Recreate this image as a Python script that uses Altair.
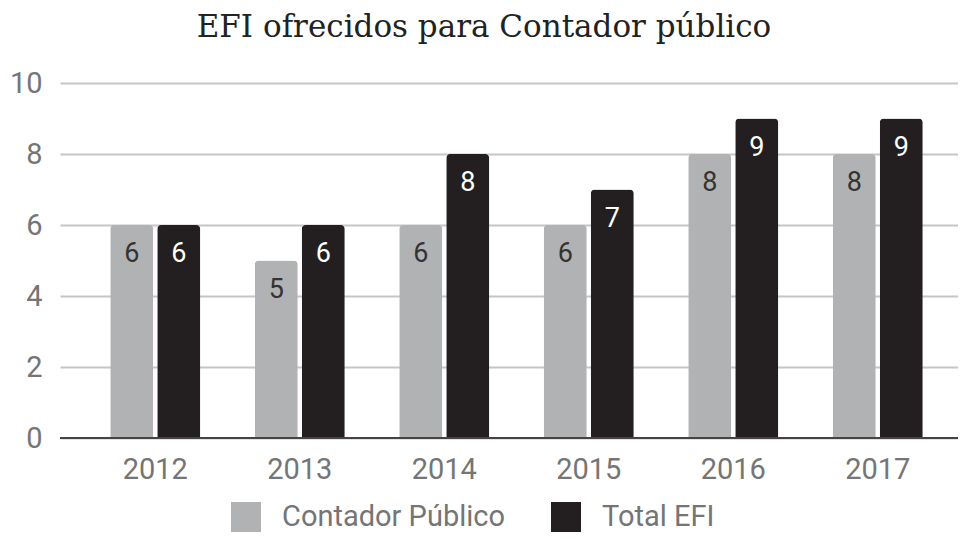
import altair as alt
import pandas as pd

years = ["2012", "2013", "2014", "2015", "2016", "2017"]
contador = [6, 5, 6, 6, 8, 8]
total = [6, 6, 8, 7, 9, 9]
series = ["Contador Público", "Total EFI"]
colors = ["#b1b2b4", "#231f20"]
text_colors = ["#333333", "#ffffff"]
y_ticks = [0, 2, 4, 6, 8, 10]

rows = []
for i, y in enumerate(years):
    rows.append({"year": y, "series": series[0], "value": contador[i]})
    rows.append({"year": y, "series": series[1], "value": total[i]})
df = pd.DataFrame(rows)

FONT = "Roboto"

x = alt.X("year:N", title=None, sort=years,
          scale=alt.Scale(paddingInner=0.377, paddingOuter=0.2958, align=0.5876),
          axis=alt.Axis(labelAngle=0, labelFontSize=29, labelColor="#757575", labelFont=FONT,
                        labelPadding=17, ticks=False, domain=False, grid=False))
xo = alt.XOffset("series:N", sort=series, scale=alt.Scale(paddingInner=0.085, paddingOuter=0))
y = alt.Y("value:Q", title=None,
          scale=alt.Scale(domain=[0, 10], nice=False),
          axis=alt.Axis(values=y_ticks, labelFontSize=29, labelColor="#757575", labelFont=FONT,
                        labelPadding=18, ticks=False, domain=False, gridColor="#c6c6c6",
                        gridWidth=2))

bars = alt.Chart(df).mark_bar(cornerRadiusTopLeft=4, cornerRadiusTopRight=4).encode(
    x=x, xOffset=xo, y=y,
    color=alt.Color("series:N", sort=series, scale=alt.Scale(domain=series, range=colors),
                    legend=alt.Legend(title=None, orient="none", direction="horizontal",
                                      legendX=171, legendY=419, symbolType="square",
                                      symbolSize=900, symbolStrokeWidth=0, labelFontSize=29,
                                      labelColor="#757575", labelFont=FONT, labelOffset=21,
                                      labelLimit=400, columnPadding=46, padding=0)),
)

labels = alt.Chart(df).mark_text(fontSize=27, font=FONT, baseline="middle", dy=29).encode(
    x=x, xOffset=xo, y=y,
    text=alt.Text("value:Q"),
    color=alt.Color("series:N", sort=series, scale=alt.Scale(domain=series, range=text_colors),
                    legend=None),
)

base = alt.Chart(pd.DataFrame({"v": [0]})).mark_rule(color="#444444", strokeWidth=2).encode(
    y=alt.datum(0)
)

chart = alt.layer(bars, labels, base).resolve_scale(color="independent").properties(
    width=898, height=355,
    autosize=alt.AutoSizeParams(type="none"),
    padding={"left": 52, "top": 75, "right": 0, "bottom": 97},
    title=alt.TitleParams("EFI ofrecidos para Contador público", font="DejaVu Serif",
                          fontSize=31, fontWeight="normal", color="#222222",
                          anchor="middle", dx=-25, offset=25),
).configure_view(stroke=None)

chart.save("out.html", embed_options={"renderer": "svg", "actions": False})
